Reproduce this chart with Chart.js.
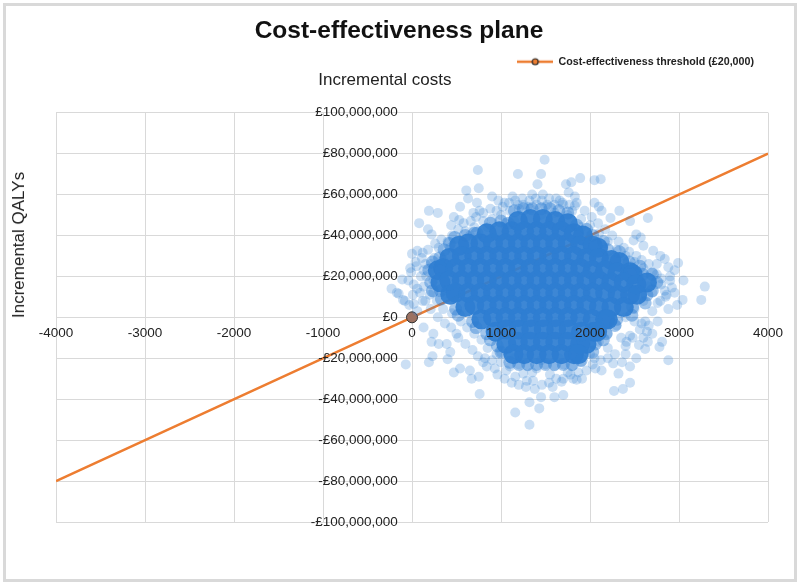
<!DOCTYPE html>
<html>
<head>
<meta charset="utf-8">
<title>Cost-effectiveness plane</title>
<script src="https://cdn.jsdelivr.net/npm/chart.js@4/dist/chart.umd.min.js"></script>
<style>
  body { margin: 0; background: #fff; }
  #wrap { position: relative; width: 800px; height: 586px; }
  #frame { position: absolute; left: 3px; top: 3px; width: 788px; height: 573px; border: 3px solid #d9d9d9; }
  #plane { position: absolute; left: 0; top: 0; }
  #ytitle {
    position: absolute; left: 19px; top: 245px;
    transform: translate(-50%, -50%) rotate(-90deg);
    font: 17px "Liberation Sans", Arial, sans-serif; color: #222; white-space: nowrap;
  }
</style>
</head>
<body>
<div id="wrap">
  <div id="frame"></div>
  <canvas id="plane" width="800" height="586"></canvas>
  <div id="ytitle">Incremental QALYs</div>
</div>
<script>
"use strict";

// axis ranges
const xTicks = [-4000, -3000, -2000, -1000, 0, 1000, 2000, 3000, 4000];
const yTicksM = [-100, -80, -60, -40, -20, 0, 20, 40, 60, 80, 100];   // £ millions

// simulations, [incremental value on x, £ millions on y]
// dense middle of the cloud (looks solid in the original)
const coreCloud = [
  [1190,47],[1330,48],[1470,48],[1610,47],[1750,46],
  [840,41],[980,42],[1120,42],[1260,42],[1400,42],[1540,42],[1680,42],[1820,41],[1920,40],
  [530,35],[630,36],[770,36],[910,36],[1050,36],[1190,36],[1330,36],[1470,36],[1610,36],[1750,36],[1890,35],[2030,35],[2090,34],
  [420,29],[560,30],[700,30],[840,30],[980,30],[1120,30],[1260,30],[1400,30],[1540,30],[1680,30],[1820,30],[1960,29],[2100,29],[2240,28],[2330,27],
  [290,23],[350,24],[490,24],[630,24],[770,24],[910,24],[1050,24],[1190,24],[1330,24],[1470,24],[1610,24],[1750,24],[1890,24],[2030,23],[2170,23],[2310,22],[2450,22],[2480,21],
  [320,17],[420,18],[560,18],[700,18],[840,18],[980,18],[1120,18],[1260,18],[1400,18],[1540,18],[1680,18],[1820,18],[1960,18],[2100,18],[2240,17],[2380,17],[2520,16],[2640,17],
  [430,11],[490,12],[630,12],[770,12],[910,12],[1050,12],[1190,12],[1330,12],[1470,12],[1610,12],[1750,12],[1890,12],[2030,12],[2170,12],[2310,11],[2450,11],[2530,11],
  [600,5],[700,6],[840,6],[980,6],[1120,6],[1260,6],[1400,6],[1540,6],[1680,6],[1820,6],[1960,6],[2100,5],[2240,5],[2380,5],
  [780,-1],[910,0],[1050,0],[1190,0],[1330,0],[1470,0],[1610,0],[1750,0],[1890,0],[2030,-1],[2170,-1],[2200,-1],
  [940,-7],[1060,-6],[1200,-6],[1340,-6],[1480,-6],[1620,-6],[1760,-6],[1900,-7],[2040,-7],[2080,-7],
  [1060,-13],[1190,-12],[1330,-12],[1470,-12],[1610,-12],[1750,-12],[1890,-13],[1960,-13],
  [1140,-18],[1260,-18],[1400,-18],[1540,-18],[1680,-18],[1820,-18],[1870,-18]
];

// half-dense rim right at the edge of the middle
const rimCloud = [
  [1150,52],[1250,53],[1350,53],[1450,53],[1550,53],[1650,52],[1750,51],
  [730,41],[880,46],[1000,47],[1080,46],[1850,45],[1960,43],[2030,40],
  [420,36],[480,39],[600,40],[700,41],[2150,37],[2200,33],
  [310,29],[360,33],[2330,32],[2440,27],
  [190,23],[230,27],[2560,25],[2590,21],
  [210,17],[230,13],[2750,17],[2700,21],[2700,13],
  [330,9],[320,13],[2640,11],[2620,7],
  [490,4],[520,1],[2480,5],[2470,1],
  [680,-2],[720,-5],[2300,-1],[2280,-4],
  [840,-8],[880,-11],[2180,-8],[2150,-11],
  [960,-14],[1000,-17],[2060,-13],[2030,-17],
  [1100,-22],[1200,-23],[1300,-23],[1400,-23],[1500,-23],[1600,-23],[1700,-23],[1800,-23],[1900,-21]
];

// thinner band round the middle
const bandCloud = [
  [600,42],[700,44],[800,47],[900,48],[1000,50],[1100,52],[1200,53],[1300,54],[1400,55],[1500,54],
  [1600,55],[1700,55],[1800,52],[1900,48],[2000,45],[2100,41],[2200,37],[2300,33],[2400,30],[2500,27],
  [2600,24],[2700,22],[2800,19],[1150,47],[1450,50],[1750,50],[850,44],[2150,34],[2450,25],[650,40],
  [1050,46],[1600,51],[1900,44],[2250,29],[2550,21],
  [400,37],[300,34],[250,29],[150,26],[100,20],[130,15],[200,11],[280,8],[350,4],[450,2],
  [550,-2],[620,-5],[700,-8],[780,-11],[850,-15],[950,-18],[1000,-22],[330,25],[240,18],[50,25],
  [60,14],[380,14],
  [1100,-24],[1200,-23],[1300,-24],[1400,-25],[1500,-23],[1600,-24],[1700,-23],[1800,-24],[1900,-22],[2000,-18],
  [1250,-20],[1450,-21],[1650,-20],[1850,-19],[1150,-20],[1350,-27],[1550,-28],[1750,-27],
  [2100,-12],[2200,-8],[2300,-4],[2400,0],[2500,4],[2600,8],[2700,12],[2800,16],[2750,21],[2650,15],
  [2500,-2],[2350,-10],[2200,-15],[2050,-20],[2900,18],[2850,10],
  [450,40],[520,43],[580,46],[660,47],[720,49],[800,51],[880,53],[950,52],[1020,54],[1090,56],
  [1160,57],[1240,58],[1320,57],[1390,58],[1460,57],[1540,58],[1620,58],[1690,56],[1770,55],[1850,56],
  [1940,52],[2020,49],[2090,46],[2170,43],[2250,40],[2320,37],[2380,34],[2440,32],[2520,30],[2580,28],
  [2660,26],
  [330,38],[260,36],[180,33],[110,29],[40,27],[-20,24],[-40,18],[20,16],[90,12],[150,8],
  [210,4],[290,0],[370,-3],[440,-5],[520,-10],[600,-13],[680,-16],[740,-19],[820,-20],[900,-21],
  [160,20],[240,12],[60,3],[-30,6],
  [960,-28],[1040,-30],[1120,-32],[1200,-33],[1280,-34],[1380,-35],[1460,-33],[1540,-32],[1620,-30],[1700,-30],
  [1780,-28],[1870,-27],[1960,-26],[2030,-23],[2120,-21],[2200,-20],[2280,-18],[1000,-17],[1100,-19],
  [2400,-14],[2480,-10],[2560,-6],[2620,-2],[2700,3],[2760,7],[2840,13],[2900,20],[2950,23],[2700,-8],
  [2600,-10],[2760,-2],[2880,4],[2950,12],[3050,18],[2520,-20],[2450,-24],[2360,-22]
];

// scattered single points at the edges
const outerCloud = [
  [1490,77],[740,72],[1190,70],[1450,70],[750,63],[610,62],[1410,65],[1730,65],[1790,66],[900,59],
  [630,58],[730,56],[1130,59],[1350,60],[1470,60],[970,57],[1040,56],[190,52],[290,51],[80,46],
  [180,43],[220,40.5],[540,54],[470,49],[530,47.5],[440,45],[690,51],[760,52],[1190,55],[1250,55],
  [1330,53],[1520,55],[1660,57],[1760,61],[1830,54.5],[0,31],[60,32.5],[120,31.5],[-10,22],[-110,18.5],
  [130,23],[430,34],[350,28],[210,26],[-230,14],[-170,12],[-80,8],[10,11],[20,6.5],[-70,-23],
  [-150,11.5],[-100,8.5],[120,8],[190,-22],[230,-19],[400,-20.5],[430,-17],[470,-27],[540,-25],[650,-26],
  [670,-30],[750,-29],[760,-37.5],[130,-5],[220,-12],[300,-13],[240,-8],[390,-13],[500,-8],[800,-22],
  [840,-24],[930,-25],[1060,-26],[1160,-29],[1250,-27.5],[1360,-31],[1290,-31],[1160,-46.5],[1320,-41.5],[1430,-44.5],
  [1320,-52.5],[1450,-39],[1600,-39],[1700,-38],[1680,-31.5],[1580,-34],[1810,-30],[1850,-30.5],[3290,15],[3250,8.5],
  [3040,8.5],[2980,6],[2920,14.5],[2860,11],[2790,8],[2660,-4],[2580,-3],[2650,-12],[2550,-13.5],[2620,-15.5],
  [2780,-14.5],[2810,-12],[2880,-21],[2450,-32],[2370,-35],[2270,-36],[2320,-27.5],[2400,-18],[2260,-22.5],[2130,-26],
  [2060,-25],[1910,-30],[2450,-9],[2410,-12],[2640,-7],[1890,68],[2050,67],[2120,67.5],[1830,59],[2050,56],
  [2100,54],[2130,52],[2330,52],[2450,47],[2650,48.5],[2230,48.5],[2520,40.5],[2570,39],[2710,32.5],[2790,30],
  [2840,28.5],[2880,24.5],[2990,26.5],[2600,35],[2490,37.5],[2750,26]
];

// threshold line (£ millions), marker only at the origin
const thresholdLine = [[-4000,-80],[0,0],[4000,80]];
const thresholdLabel = "Cost-effectiveness threshold (£20,000)";

const FONT = '"Liberation Sans", Arial, sans-serif';
const BLUE = "46,126,210";
const ORANGE = "#ED7D31";
const GRID = "#d9d9d9";
const TEXT = "#222";

function toPoints(list) {
  return list.map(p => ({ x: p[0], y: p[1] * 1e6 }));
}

function pund(v) {
  const s = String(Math.abs(v)).replace(/\B(?=(\d{3})+(?!\d))/g, ",");
  return (v < 0 ? "-£" : "£") + s;
}

// little line-with-dot for the legend
const legendMarker = document.createElement("canvas");
legendMarker.width = 36;
legendMarker.height = 12;
const mk = legendMarker.getContext("2d");
mk.strokeStyle = ORANGE;
mk.lineWidth = 2.5;
mk.beginPath(); mk.moveTo(0, 6); mk.lineTo(36, 6); mk.stroke();
mk.beginPath(); mk.arc(18, 6, 3, 0, Math.PI * 2);
mk.fillStyle = ORANGE; mk.fill();
mk.lineWidth = 1.2; mk.strokeStyle = "#262626"; mk.stroke();

new Chart(document.getElementById("plane"), {
  type: "scatter",
  data: {
    datasets: [
      { label: "Simulations", data: toPoints(coreCloud), pointRadius: 10, pointHoverRadius: 10,
        backgroundColor: `rgba(${BLUE},0.93)`, borderWidth: 0 },
      { label: "Simulations (rim)", data: toPoints(rimCloud), pointRadius: 6.5, pointHoverRadius: 6.5,
        backgroundColor: `rgba(${BLUE},0.45)`, borderWidth: 0 },
      { label: "Simulations (edge)", data: toPoints(bandCloud.concat(outerCloud)), pointRadius: 5, pointHoverRadius: 5,
        backgroundColor: `rgba(${BLUE},0.25)`, borderWidth: 0 },
      { label: thresholdLabel, data: toPoints(thresholdLine), showLine: true,
        borderColor: ORANGE, borderWidth: 2.5, tension: 0,
        pointRadius: [0, 5.5, 0], pointHoverRadius: [0, 5.5, 0],
        pointBackgroundColor: "#9c7262", pointBorderColor: "#333", pointBorderWidth: 1 }
    ]
  },
  options: {
    responsive: false,
    animation: false,
    events: [],
    layout: { padding: { left: 30, right: 32, top: 0, bottom: 64 } },
    plugins: {
      title: {
        display: true, text: "Cost-effectiveness plane", color: "#111",
        font: { family: FONT, size: 24.5, weight: "bold" },
        padding: { top: 17, bottom: -4 }
      },
      legend: {
        display: true, position: "top", align: "end",
        labels: {
          usePointStyle: true, pointStyleWidth: 36, padding: 14, color: TEXT,
          font: { family: FONT, size: 10.7, weight: "bold" },
          generateLabels: () => [{
            text: thresholdLabel, pointStyle: legendMarker, datasetIndex: 3, hidden: false,
            fontColor: TEXT, fillStyle: ORANGE, strokeStyle: ORANGE, lineWidth: 0
          }]
        }
      },
      subtitle: {
        display: true, weight: 900, text: "Incremental costs      ", color: TEXT,
        font: { family: FONT, size: 17 },
        padding: { top: -6.7, bottom: 21.8 }
      },
      tooltip: { enabled: false }
    },
    scales: {
      x: {
        type: "linear", min: xTicks[0], max: xTicks[xTicks.length - 1], position: { y: 0 },
        afterBuildTicks: s => { s.ticks = xTicks.map(v => ({ value: v })); },
        // labels drawn over the cloud, grid under it
        ticks: { z: 1, autoSkip: false, maxRotation: 0, padding: 8, color: TEXT,
          font: { family: FONT, size: 13.5 }, callback: v => String(v) },
        grid: { color: GRID, drawTicks: false },
        border: { color: GRID, z: -1 }
      },
      y: {
        type: "linear", min: yTicksM[0] * 1e6, max: yTicksM[yTicksM.length - 1] * 1e6, position: { x: -160 },
        afterBuildTicks: s => { s.ticks = yTicksM.map(v => ({ value: v * 1e6 })); },
        afterFit: s => { s.width = 0; },
        ticks: { z: 1, autoSkip: false, color: TEXT, font: { family: FONT, size: 13.5 }, callback: v => pund(v) },
        grid: { color: GRID, drawTicks: false },
        border: { display: false }
      },
      gap: {
        type: "linear", axis: "y", position: "left", display: true,
        ticks: { display: false }, grid: { display: false, drawTicks: false }, border: { display: false },
        afterFit: s => { s.width = 26; }
      }
    }
  }
});
</script>
</body>
</html>
